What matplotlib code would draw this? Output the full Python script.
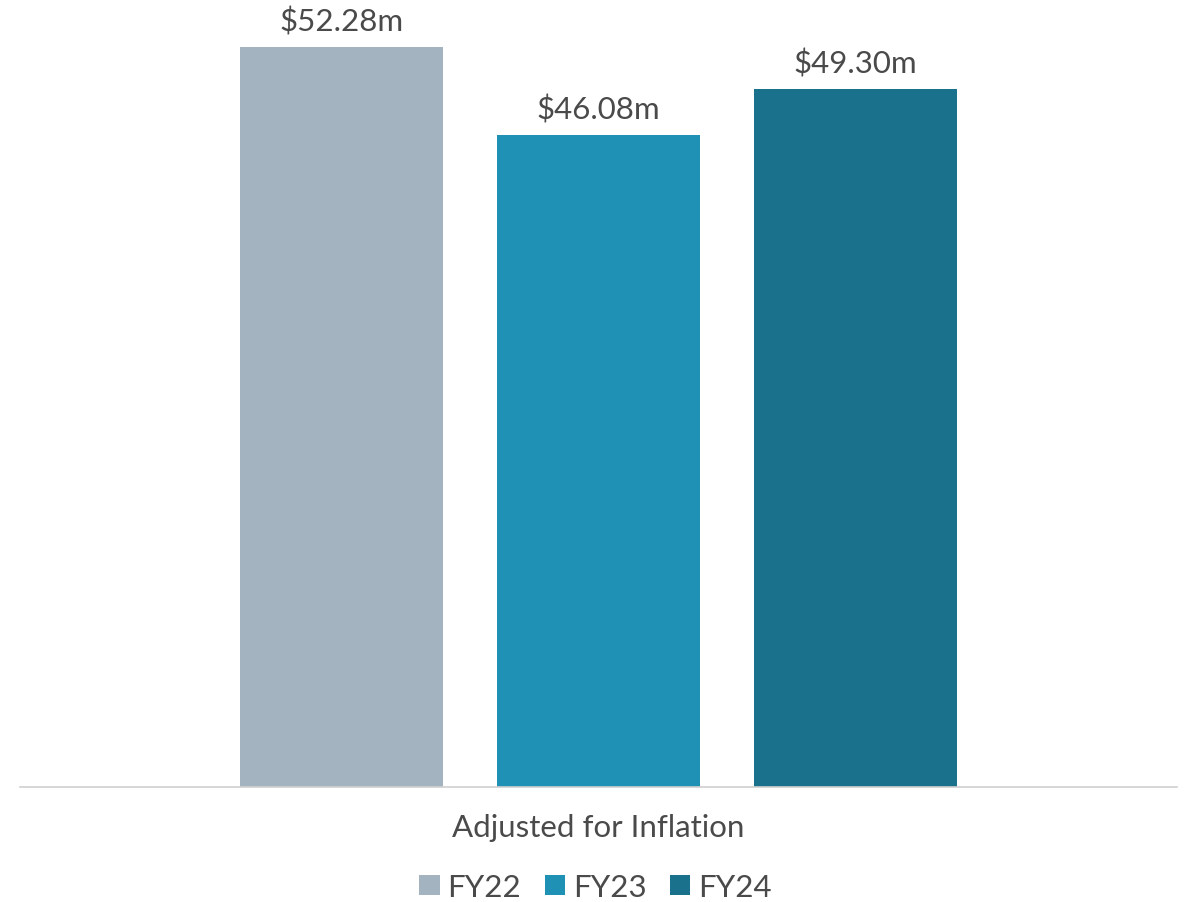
import numpy as np
import matplotlib.pyplot as plt

years = ["FY22", "FY23", "FY24"]
values = [52.28, 46.08, 49.30]
labels = ["$52.28m", "$46.08m", "$49.30m"]
colors = ["#A3B4C0", "#1F91B5", "#1A718C"]
category = "Adjusted for Inflation"

plt.rcParams['font.family'] = ['Lato', 'DejaVu Sans']
txt = "#4A4A4A"

fig = plt.figure(figsize=(11.91, 9.03), dpi=100)
ax = fig.add_axes([20 / 1191, 115 / 903, 1157 / 1191, 788 / 903])

x = np.arange(len(years)) - 1
bars = ax.bar(x, values, width=0.79, color=colors, label=years)
for b, lab in zip(bars, labels):
    ax.text(b.get_x() + b.get_width() / 2, b.get_height() + 0.8, lab,
            ha='center', va='bottom', fontsize=22.5, color=txt)

ax.set_xlim(-2.251, 2.251)
ax.set_ylim(0, 55.65)
ax.set_yticks([])
ax.set_xticks([0])
ax.set_xticklabels([category], fontsize=22.5, color=txt)
ax.tick_params(axis='x', length=0, pad=19)
for s in ['top', 'right', 'left']:
    ax.spines[s].set_visible(False)
ax.spines['bottom'].set_color('#D0D0D0')
ax.spines['bottom'].set_linewidth(1.2)

fig.legend(handles=bars, labels=years, loc='center', bbox_to_anchor=(0.5, 15 / 903),
           ncol=3, frameon=False, fontsize=22.5, handlelength=0.65, handleheight=0.65,
           handletextpad=0.25, columnspacing=0.75, labelcolor=txt)

fig.savefig("out.png", dpi=100)
